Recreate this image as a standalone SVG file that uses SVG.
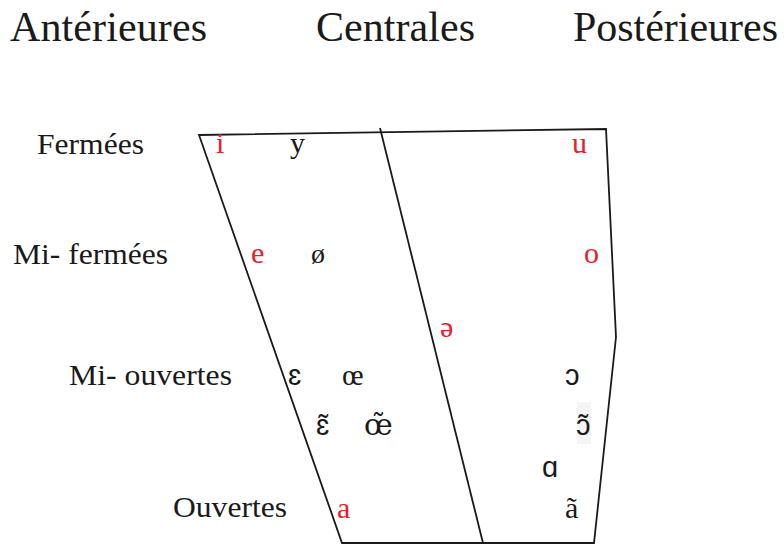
<svg xmlns="http://www.w3.org/2000/svg" width="784" height="545" viewBox="0 0 784 545">
<style>
.t{font-family:"Liberation Serif","Times New Roman",serif;fill:#1a1a1a}
.h{font-size:42px}
.r{font-size:29px}
.v{font-family:"Liberation Serif","DejaVu Serif",serif;font-size:30px;fill:#1a1a1a}
.s{font-family:"Liberation Sans","DejaVu Sans",sans-serif;font-size:29px;fill:#1a1a1a}
.red{fill:#e8202a}
.ln{fill:none;stroke:#1a1a1a;stroke-width:1.8;stroke-linejoin:miter}
</style>
<rect width="784" height="545" fill="#fff"/>
<g id="titles">
<text class="t h" x="10" y="41" textLength="197">Antérieures</text>
<text class="t h" x="316" y="41" textLength="159">Centrales</text>
<text class="t h" x="573" y="41" textLength="205">Postérieures</text>
</g>
<g id="rows">
<text class="t r" x="37" y="154" textLength="107" lengthAdjust="spacingAndGlyphs">Fermées</text>
<text class="t r" x="13" y="264" textLength="155" lengthAdjust="spacingAndGlyphs">Mi- fermées</text>
<text class="t r" x="69" y="385" textLength="163" lengthAdjust="spacingAndGlyphs">Mi- ouvertes</text>
<text class="t r" x="173" y="517" textLength="114" lengthAdjust="spacingAndGlyphs">Ouvertes</text>
</g>
<g id="connectors">
<polygon class="ln" points="199,135 606,129 616,337 594,543 342,543"/>
<line class="ln" x1="380" y1="128" x2="483" y2="543"/>
</g>
<rect x="577" y="402" width="14" height="42" fill="#f4f4f4"/>
<g id="vowels">
<text class="v red" x="216" y="153">i</text>
<text class="v" x="290" y="153">y</text>
<text class="v red" x="572" y="153">u</text>
<text class="v red" x="251" y="263">e</text>
<text class="v" x="311" y="263" style="font-size:28px">ø</text>
<text class="v red" x="584" y="263">o</text>
<text class="v red" x="440" y="337">ə</text>
<text class="s" x="288" y="385">ɛ</text>
<text class="v" x="342" y="385">œ</text>
<text class="s" x="565" y="385">ɔ</text>
<text class="s" x="316" y="435">ɛ̃</text>
<text class="v" x="364" y="435" style="font-family:'DejaVu Serif',serif;font-size:29px">œ̃</text>
<text class="s" x="576" y="435">ɔ̃</text>
<text class="s" x="542" y="477">ɑ</text>
<text class="v" x="565" y="518">ã</text>
<text class="v red" x="337" y="518">a</text>
</g>
</svg>
